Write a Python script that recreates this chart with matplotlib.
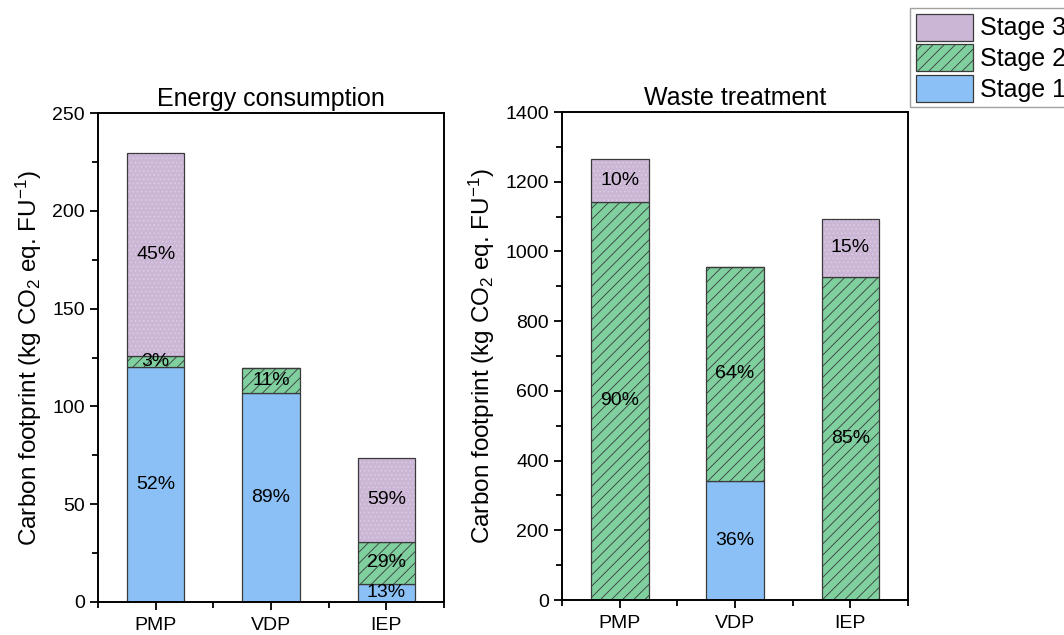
import numpy as np
import matplotlib
matplotlib.use("Agg")
import matplotlib.pyplot as plt
from matplotlib.patches import Patch

plt.rcParams["font.family"] = ["Liberation Sans", "DejaVu Sans"]
plt.rcParams["mathtext.fontset"] = "custom"
plt.rcParams["mathtext.rm"] = "Liberation Sans"
plt.rcParams["mathtext.it"] = "Liberation Sans:italic"
plt.rcParams["hatch.linewidth"] = 0.6

categories = ["PMP", "VDP", "IEP"]

# Energy consumption (kg CO2 eq. FU-1)
energy_s1 = [120.0, 107.0, 9.3]
energy_s2 = [6.0, 12.5, 21.5]
energy_s3 = [103.5, 0.0, 43.0]
energy_lab1 = ["52%", "89%", "13%"]
energy_lab2 = ["3%", "11%", "29%"]
energy_lab3 = ["45%", "", "59%"]

# Waste treatment
waste_s1 = [0.0, 342.0, 0.0]
waste_s2 = [1142.0, 613.0, 928.0]
waste_s3 = [122.0, 0.0, 165.0]
waste_lab1 = ["", "36%", ""]
waste_lab2 = ["90%", "64%", "85%"]
waste_lab3 = ["10%", "", "15%"]

C1 = "#8ac0f5"
C2 = "#7fcf9f"
C3 = "#cbb6d6"
EDGE = "#3a3a3a"
HATCH2 = "///"


def stacked(ax, s1, s2, s3, labs, title, ymax, ystep):
    x = np.arange(len(categories))
    s1, s2, s3 = np.array(s1), np.array(s2), np.array(s3)
    w = 0.5
    ax.bar(x, s1, w, color=C1, edgecolor=EDGE, linewidth=0.9)
    ax.bar(x, s2, w, bottom=s1, color=C2, edgecolor=EDGE, linewidth=0.9, hatch=HATCH2)
    # dotted fill for stage 3, then outline
    ax.bar(x, s3, w, bottom=s1 + s2, color=C3, edgecolor="#dccde4", linewidth=0, hatch="....")
    ax.bar(x, s3, w, bottom=s1 + s2, fill=False, edgecolor=EDGE, linewidth=0.9)

    bottoms = [np.zeros_like(s1), s1, s1 + s2]
    for seg, bot, lab in zip([s1, s2, s3], bottoms, labs):
        for i in range(len(x)):
            if lab[i]:
                ax.text(x[i], bot[i] + seg[i] / 2, lab[i], ha="center", va="center",
                        fontsize=14)

    ax.set_xlim(-0.5, 2.5)
    ax.set_ylim(0, ymax)
    ax.set_xticks(x)
    ax.set_xticklabels(categories)
    ax.set_xticks([-0.5, 0.5, 1.5, 2.5], minor=True)
    ax.set_yticks(np.arange(0, ymax + 1, ystep))
    ax.set_yticks(np.arange(ystep / 2, ymax, ystep), minor=True)
    ax.tick_params(which="both", direction="out", labelsize=14, width=1.3)
    ax.tick_params(which="major", length=6)
    ax.tick_params(which="minor", length=4)
    ax.tick_params(axis="x", which="major", pad=5)
    for sp in ax.spines.values():
        sp.set_linewidth(1.4)
    ax.set_title(title, fontsize=18, pad=5)
    ax.set_ylabel(r"Carbon footprint (kg CO$_2$ eq. FU$^{\mathrm{-}1}$)", fontsize=17.5, labelpad=6)


fig = plt.figure(figsize=(10.64, 6.35), dpi=100)
ax1 = fig.add_axes([0.0921, 0.052, 0.3252, 0.770])
ax2 = fig.add_axes([0.5282, 0.0551, 0.3252, 0.7685])

stacked(ax1, energy_s1, energy_s2, energy_s3,
        [energy_lab1, energy_lab2, energy_lab3], "Energy consumption", 250, 50)
stacked(ax2, waste_s1, waste_s2, waste_s3,
        [waste_lab1, waste_lab2, waste_lab3], "Waste treatment", 1400, 200)

handles = [
    Patch(facecolor=C3, edgecolor=EDGE, linewidth=0.9, label="Stage 3"),
    Patch(facecolor=C2, edgecolor=EDGE, linewidth=0.9, hatch=HATCH2, label="Stage 2"),
    Patch(facecolor=C1, edgecolor=EDGE, linewidth=0.9, label="Stage 1"),
]
leg = fig.legend(handles=handles, loc="upper left", bbox_to_anchor=(910 / 1064, 1 - 8 / 635),
                 fontsize=18, handlelength=2.3, handleheight=1.3, handletextpad=0.3,
                 labelspacing=0.13, borderpad=0.22, borderaxespad=0, fancybox=False,
                 frameon=True)
leg.get_frame().set_edgecolor("#8a8a8a")
leg.get_frame().set_linewidth(1.0)

fig.savefig("out.png", dpi=100)
